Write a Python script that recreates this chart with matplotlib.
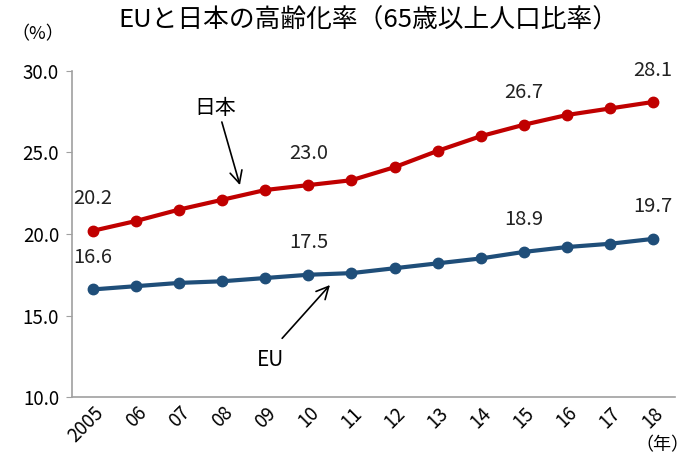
import matplotlib
matplotlib.use("Agg")
import matplotlib.pyplot as plt

plt.rcParams['font.family'] = ['Noto Sans CJK JP', 'DejaVu Sans']

years = ["2005", "06", "07", "08", "09", "10", "11", "12", "13", "14", "15", "16", "17", "18"]
japan = [20.2, 20.8, 21.5, 22.1, 22.7, 23.0, 23.3, 24.1, 25.1, 26.0, 26.7, 27.3, 27.7, 28.1]
eu = [16.6, 16.8, 17.0, 17.1, 17.3, 17.5, 17.6, 17.9, 18.2, 18.5, 18.9, 19.2, 19.4, 19.7]
label_idx = [0, 5, 10, 13]
yticks = [10.0, 15.0, 20.0, 25.0, 30.0]

red = "#C00000"
blue = "#1F4E79"

fig = plt.figure(figsize=(6.89, 4.61), dpi=100)
ax = fig.add_axes([0.1038, 0.1388, 0.8752, 0.7072])
x = list(range(len(years)))
ax.plot(x, japan, color=red, lw=3, marker='o', ms=7.5)
ax.plot(x, eu, color=blue, lw=3, marker='o', ms=7.5)

for i in label_idx:
    ax.annotate(f"{japan[i]:.1f}", (x[i], japan[i]), xytext=(0, 23), textcoords='offset points',
                ha='center', va='center', fontsize=14.5, color='#222222')
    ax.annotate(f"{eu[i]:.1f}", (x[i], eu[i]), xytext=(0, 23), textcoords='offset points',
                ha='center', va='center', fontsize=14.5, color='#222222')

ax.set_xlim(-0.5, len(years) - 0.5)
ax.set_ylim(10, 30)
ax.set_yticks(yticks)
ax.set_yticklabels([f"{v:.1f}" for v in yticks], fontsize=13.5)
ax.set_xticks(x)
ax.set_xticklabels(years, fontsize=13.5, rotation=45, ha='right', rotation_mode='anchor')
ax.tick_params(axis='x', length=0, pad=4)
ax.tick_params(axis='y', length=4, color='#A0A0A0', pad=5)
for s in ['top', 'right']:
    ax.spines[s].set_visible(False)
for s in ['left', 'bottom']:
    ax.spines[s].set_color('#A0A0A0')
    ax.spines[s].set_linewidth(1.2)

ax.text(2.83, 27.73, "日本", ha='center', va='center', fontsize=15)
ax.annotate("", xy=(3.41, 23.0), xytext=(2.99, 26.87),
            arrowprops=dict(arrowstyle='->', color='black', lw=1.2, mutation_scale=22, shrinkA=0, shrinkB=0))
ax.text(4.11, 12.27, "EU", ha='center', va='center', fontsize=15)
ax.annotate("", xy=(5.5, 16.87), xytext=(4.39, 13.6),
            arrowprops=dict(arrowstyle='->', color='black', lw=1.2, mutation_scale=22, shrinkA=0, shrinkB=0))

fig.text(0.535, 0.955, "EUと日本の高齢化率（65歳以上人口比率）", ha='center', va='center', fontsize=18.5)
fig.text(0.055, 0.925, "（%）", ha='center', va='center', fontsize=13)
fig.text(0.962, 0.035, "（年）", ha='center', va='center', fontsize=13)

fig.savefig("out.png", dpi=100)
